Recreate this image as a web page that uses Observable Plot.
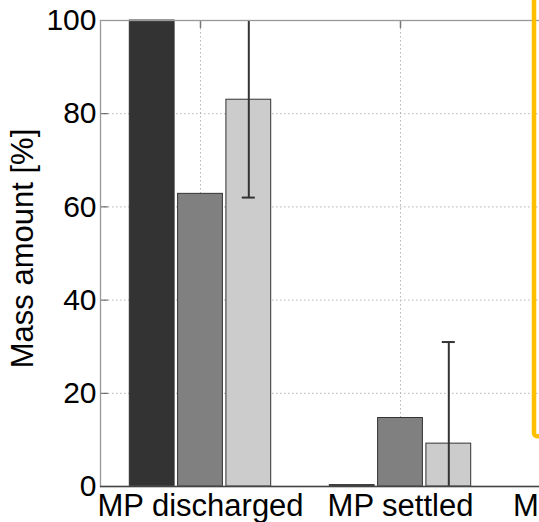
<!DOCTYPE html>
<html><head><meta charset="utf-8">
<script src="https://cdn.jsdelivr.net/npm/d3@7"></script>
<script src="https://cdn.jsdelivr.net/npm/@observablehq/plot@0.6"></script>
<style>
body{margin:0;background:#fff;}
#chart{width:539px;height:522px;overflow:hidden;}
#chart svg{max-width:none !important;width:700px !important;height:522px !important;}
#chart svg g[aria-label="x-axis"] text, #chart svg g[aria-label="x-axis tick label"] text{font-size:31px;}
</style></head><body><div id="chart"></div>
<script>
// Data
const categories = ["MP discharged", "MP settled", "MP removed"];
const series1 = [100, 0.3];          // dark bars
const series2 = [62.8, 14.7];        // medium bars
const series3 = [83.0, 9.2];         // light bars
const series3Err = [21.0, 21.8];     // error half-widths on light bars
const yTicks = [0, 20, 40, 60, 80, 100];
const yLabel = "Mass amount [%]";
const highlightBox = [{category: "MP removed", y1: 10.7, y2: 112}];

const rows = vals => vals.map((v, i) => ({category: categories[i], value: v}));
const errRows = series3.map((v, i) => ({category: categories[i], lo: v - series3Err[i], hi: v + series3Err[i]}));

const off = 48.3, inset = 77.6, capInset = 93.5;
const grid = {stroke: "#b4b4b4", strokeDasharray: "1.5,2.5"};

const chart = Plot.plot({
  width: 700, height: 522,
  marginLeft: 100, marginRight: 0, marginTop: 20, marginBottom: 36,
  style: {fontFamily: "'Liberation Sans', Arial, sans-serif", fontSize: "30px", background: "white", color: "black", maxWidth: "none"},
  x: {domain: categories, padding: 0, tickSize: 0, tickPadding: 7, label: null},
  y: {domain: [0, 100], ticks: yTicks, tickSize: 0, tickPadding: 4, label: null},
  marks: [
    Plot.ruleY(yTicks, grid),
    Plot.ruleX(categories, grid),
    Plot.ruleY(yTicks, {insetRight: 592, stroke: "#555"}),
    Plot.ruleX(categories, {insetBottom: 458, stroke: "#777", strokeWidth: 1.5}),
    Plot.barY(rows(series1), {x: "category", y: "value", fill: "#333333", stroke: "#333", strokeWidth: 1, dx: -off, insetLeft: inset, insetRight: inset}),
    Plot.barY(rows(series2), {x: "category", y: "value", fill: "#808080", stroke: "#333", strokeWidth: 1, insetLeft: inset, insetRight: inset}),
    Plot.barY(rows(series3), {x: "category", y: "value", fill: "#cccccc", stroke: "#333", strokeWidth: 1, dx: off, insetLeft: inset, insetRight: inset}),
    Plot.ruleX(errRows, {x: "category", y1: "lo", y2: "hi", dx: off, stroke: "#333", strokeWidth: 2, clip: true}),
    Plot.tickY(errRows, {x: "category", y: "lo", dx: off, insetLeft: capInset, insetRight: capInset, stroke: "#333", strokeWidth: 2, clip: true}),
    Plot.tickY(errRows, {x: "category", y: "hi", dx: off, insetLeft: capInset, insetRight: capInset, stroke: "#333", strokeWidth: 2, clip: true}),
    Plot.frame({stroke: "#999", strokeWidth: 1.3}),
    Plot.ruleY([0], {stroke: "#444", strokeWidth: 1.3}),
    Plot.barY(highlightBox, {x: "category", y1: "y1", y2: "y2", fill: "none", stroke: "#FFC000", strokeWidth: 4.5, insetLeft: 34, rx: 3}),
    Plot.text([yLabel], {text: d => d, frameAnchor: "left", textAnchor: "middle", dx: -77, dy: -5, rotate: -90, fontSize: 31, fill: "black"})
  ]
});
document.getElementById("chart").append(chart);
</script></body></html>
